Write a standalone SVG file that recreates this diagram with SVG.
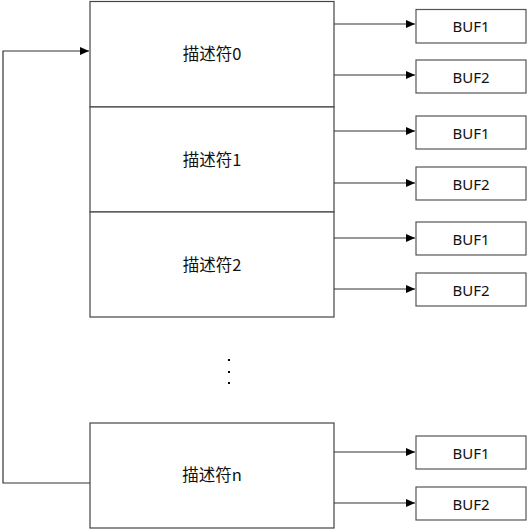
<svg xmlns="http://www.w3.org/2000/svg" width="529" height="530" viewBox="0 0 529 530">
<style>
.box{fill:#fff;stroke:#444;stroke-width:1.2}
.buf{fill:#fff;stroke:#555;stroke-width:1.2}
.t{font-family:"Noto Sans CJK SC","Noto Sans",sans-serif;font-size:16.5px;fill:#111;text-anchor:middle;dominant-baseline:central}
.b{font-family:"Noto Sans","Noto Sans CJK SC",sans-serif;font-size:15px;fill:#111;text-anchor:middle;dominant-baseline:central}
.c{fill:none;stroke:#333;stroke-width:1.2}
</style>
<defs>
<marker id="ah" markerWidth="10" markerHeight="8" refX="9" refY="4" orient="auto" markerUnits="userSpaceOnUse">
<path d="M0,0 L9,4 L0,8 Z" fill="#000"/>
</marker>
</defs>
<g id="desc0"><rect class="box" x="90" y="1.5" width="244" height="105.5"/><text class="t" x="212" y="53">描述符0</text></g>
<g id="desc1"><rect class="box" x="90" y="107" width="244" height="105"/><text class="t" x="212" y="159">描述符1</text></g>
<g id="desc2"><rect class="box" x="90" y="212" width="244" height="105"/><text class="t" x="212" y="264">描述符2</text></g>
<g id="descn"><rect class="box" x="90" y="423" width="244" height="105"/><text class="t" x="212" y="474">描述符n</text></g>
<g id="dots" fill="#000"><rect x="228" y="359" width="2" height="2"/><rect x="228" y="371" width="2" height="2"/><rect x="228" y="382" width="2" height="2"/></g>
<g id="buf0a"><rect class="buf" x="416" y="9.5" width="110" height="33.5"/><text class="b" x="471" y="26">BUF1</text></g>
<g id="buf0b"><rect class="buf" x="416" y="60" width="110" height="33"/><text class="b" x="471" y="76.5">BUF2</text></g>
<g id="buf1a"><rect class="buf" x="416" y="116" width="110" height="33"/><text class="b" x="471" y="132.5">BUF1</text></g>
<g id="buf1b"><rect class="buf" x="416" y="167" width="110" height="33"/><text class="b" x="471" y="183.5">BUF2</text></g>
<g id="buf2a"><rect class="buf" x="416" y="222" width="110" height="33"/><text class="b" x="471" y="238.5">BUF1</text></g>
<g id="buf2b"><rect class="buf" x="416" y="273" width="110" height="33"/><text class="b" x="471" y="289.5">BUF2</text></g>
<g id="bufna"><rect class="buf" x="416" y="436" width="110" height="33"/><text class="b" x="471" y="452.5">BUF1</text></g>
<g id="bufnb"><rect class="buf" x="416" y="487" width="110" height="33"/><text class="b" x="471" y="503.5">BUF2</text></g>
<g id="connectors">
<path class="c" d="M334,24 H415" marker-end="url(#ah)"/>
<path class="c" d="M334,75 H415" marker-end="url(#ah)"/>
<path class="c" d="M334,131 H415" marker-end="url(#ah)"/>
<path class="c" d="M334,183 H415" marker-end="url(#ah)"/>
<path class="c" d="M334,238 H415" marker-end="url(#ah)"/>
<path class="c" d="M334,289 H415" marker-end="url(#ah)"/>
<path class="c" d="M334,452 H415" marker-end="url(#ah)"/>
<path class="c" d="M334,503 H415" marker-end="url(#ah)"/>
<path class="c" d="M90,483 H3 V51 H89" marker-end="url(#ah)"/>
</g>
</svg>
